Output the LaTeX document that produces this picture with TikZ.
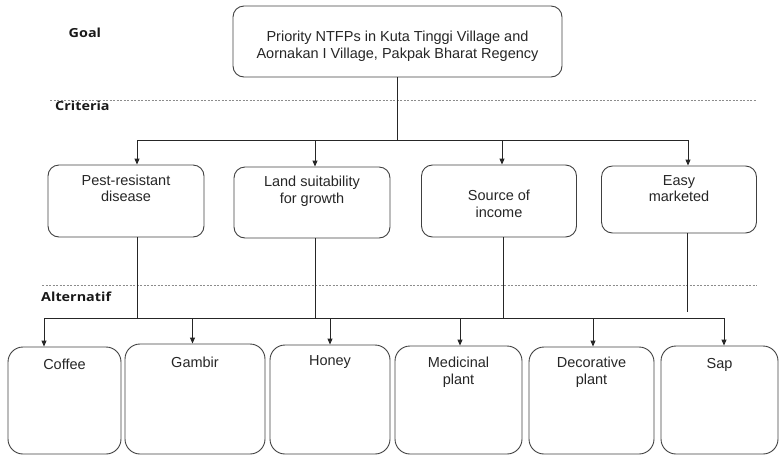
\documentclass[tikz,border=0pt]{standalone}
\usepackage{fontspec}
\setmainfont{Liberation Sans}
\newfontfamily\lblfont{Open Sans}
\usetikzlibrary{arrows.meta}
\tikzset{
  box/.style={draw=black!75, line width=0.9pt, rounded corners=11pt, inner sep=0pt, text=black!85, font=\fontsize{14.5}{16.5}\selectfont},
  altbox/.style={box, rounded corners=15pt},
  conn/.style={draw=black!85, line width=0.9pt},
  arr/.style={conn, -{Triangle[length=6pt,width=5pt]}},
  sep/.style={draw=black!45, line width=0.7pt, dash pattern=on 2pt off 1.5pt},
  lvl/.style={font=\lblfont\bfseries\fontsize{12.5}{14}\selectfont, anchor=west, inner sep=0pt, text=black!90}
}
\newcommand{\bx}[4]{\parbox[c][#2][t]{#1}{\centering\vspace*{#3}#4\par}}
\newcommand{\lbltext}[1]{\scalebox{1.15}[1]{#1}}
\begin{document}
\begin{tikzpicture}[x=1pt,y=-1pt]
\useasboundingbox (0,0) rectangle (779,456);
% level labels
\node[lvl] (lgoal) at (68.5,33) {\lbltext{Goal}};
\node[lvl] (lcrit) at (55,106) {\lbltext{Criteria}};
\node[lvl] (lalt) at (41,297) {\lbltext{Alternatif}};
% separators
\coordinate (s1a) at (50,100); \coordinate (s1b) at (757,100);
\coordinate (s2a) at (42,285); \coordinate (s2b) at (757,285);
\draw[sep] (s1a) -- (s1b);
\draw[sep] (s2a) -- (s2b);
% goal
\node[box] (goal) at (397.5,41.5) {\bx{329pt}{71pt}{25pt}{Priority NTFPs in Kuta Tinggi Village and\\Aornakan I Village, Pakpak Bharat Regency}};
% criteria
\node[box] (c1) at (126,201) {\bx{156pt}{72pt}{9.5pt}{Pest-resistant\\disease}};
\node[box] (c2) at (312,202.5) {\bx{156pt}{71pt}{9pt}{Land suitability\\for growth}};
\node[box] (c3) at (499,201) {\bx{155pt}{72pt}{25.5pt}{Source of\\income}};
\node[box] (c4) at (679,199.5) {\bx{155pt}{67pt}{9.5pt}{Easy\\marketed}};
% alternatives
\node[altbox] (a1) at (64.5,400.5) {\bx{113pt}{107pt}{11.5pt}{Coffee}};
\node[altbox] (a2) at (195,399) {\bx{140pt}{110pt}{12.5pt}{Gambir}};
\node[altbox] (a3) at (330,399.5) {\bx{120pt}{109pt}{10.5pt}{Honey}};
\node[altbox] (a4) at (458.5,400) {\bx{127pt}{108pt}{11pt}{Medicinal\\plant}};
\node[altbox] (a5) at (591.5,400.5) {\bx{125pt}{107pt}{10pt}{Decorative\\plant}};
\node[altbox] (a6) at (719.5,400) {\bx{117pt}{108pt}{12pt}{Sap}};
% goal to criteria
\coordinate (g0) at (goal.south |- 0,140);
\coordinate (t1) at (137,140); \coordinate (t2) at (315,140);
\coordinate (t3) at (502,140); \coordinate (t4) at (688,140);
\draw[conn] (goal.south) -- (g0);
\draw[conn] (t1) -- (t4);
\draw[arr] (t1) -- (t1 |- c1.north);
\draw[arr] (t2) -- (t2 |- c2.north);
\draw[arr] (t3) -- (t3 |- c3.north);
\draw[arr] (t4) -- (t4 |- c4.north);
% criteria to alternatives
\coordinate (b1) at (137,318); \coordinate (b2) at (315,318);
\coordinate (b3) at (503,318); \coordinate (b4) at (687.5,311.5);
\draw[conn] (b1 |- c1.south) -- (b1);
\draw[conn] (b2 |- c2.south) -- (b2);
\draw[conn] (b3 |- c3.south) -- (b3);
\draw[conn] (b4 |- c4.south) -- (b4);
\coordinate (u1) at (44,318); \coordinate (u2) at (192.5,318);
\coordinate (u3) at (330,318); \coordinate (u4) at (460,318);
\coordinate (u5) at (593,318); \coordinate (u6) at (724,318);
\draw[conn] (u1) -- (u6);
\draw[arr] (u1) -- (u1 |- a1.north);
\draw[arr] (u2) -- (u2 |- a2.north);
\draw[arr] (u3) -- (u3 |- a3.north);
\draw[arr] (u4) -- (u4 |- a4.north);
\draw[arr] (u5) -- (u5 |- a5.north);
\draw[arr] (u6) -- (u6 |- a6.north);
\end{tikzpicture}
\end{document}
